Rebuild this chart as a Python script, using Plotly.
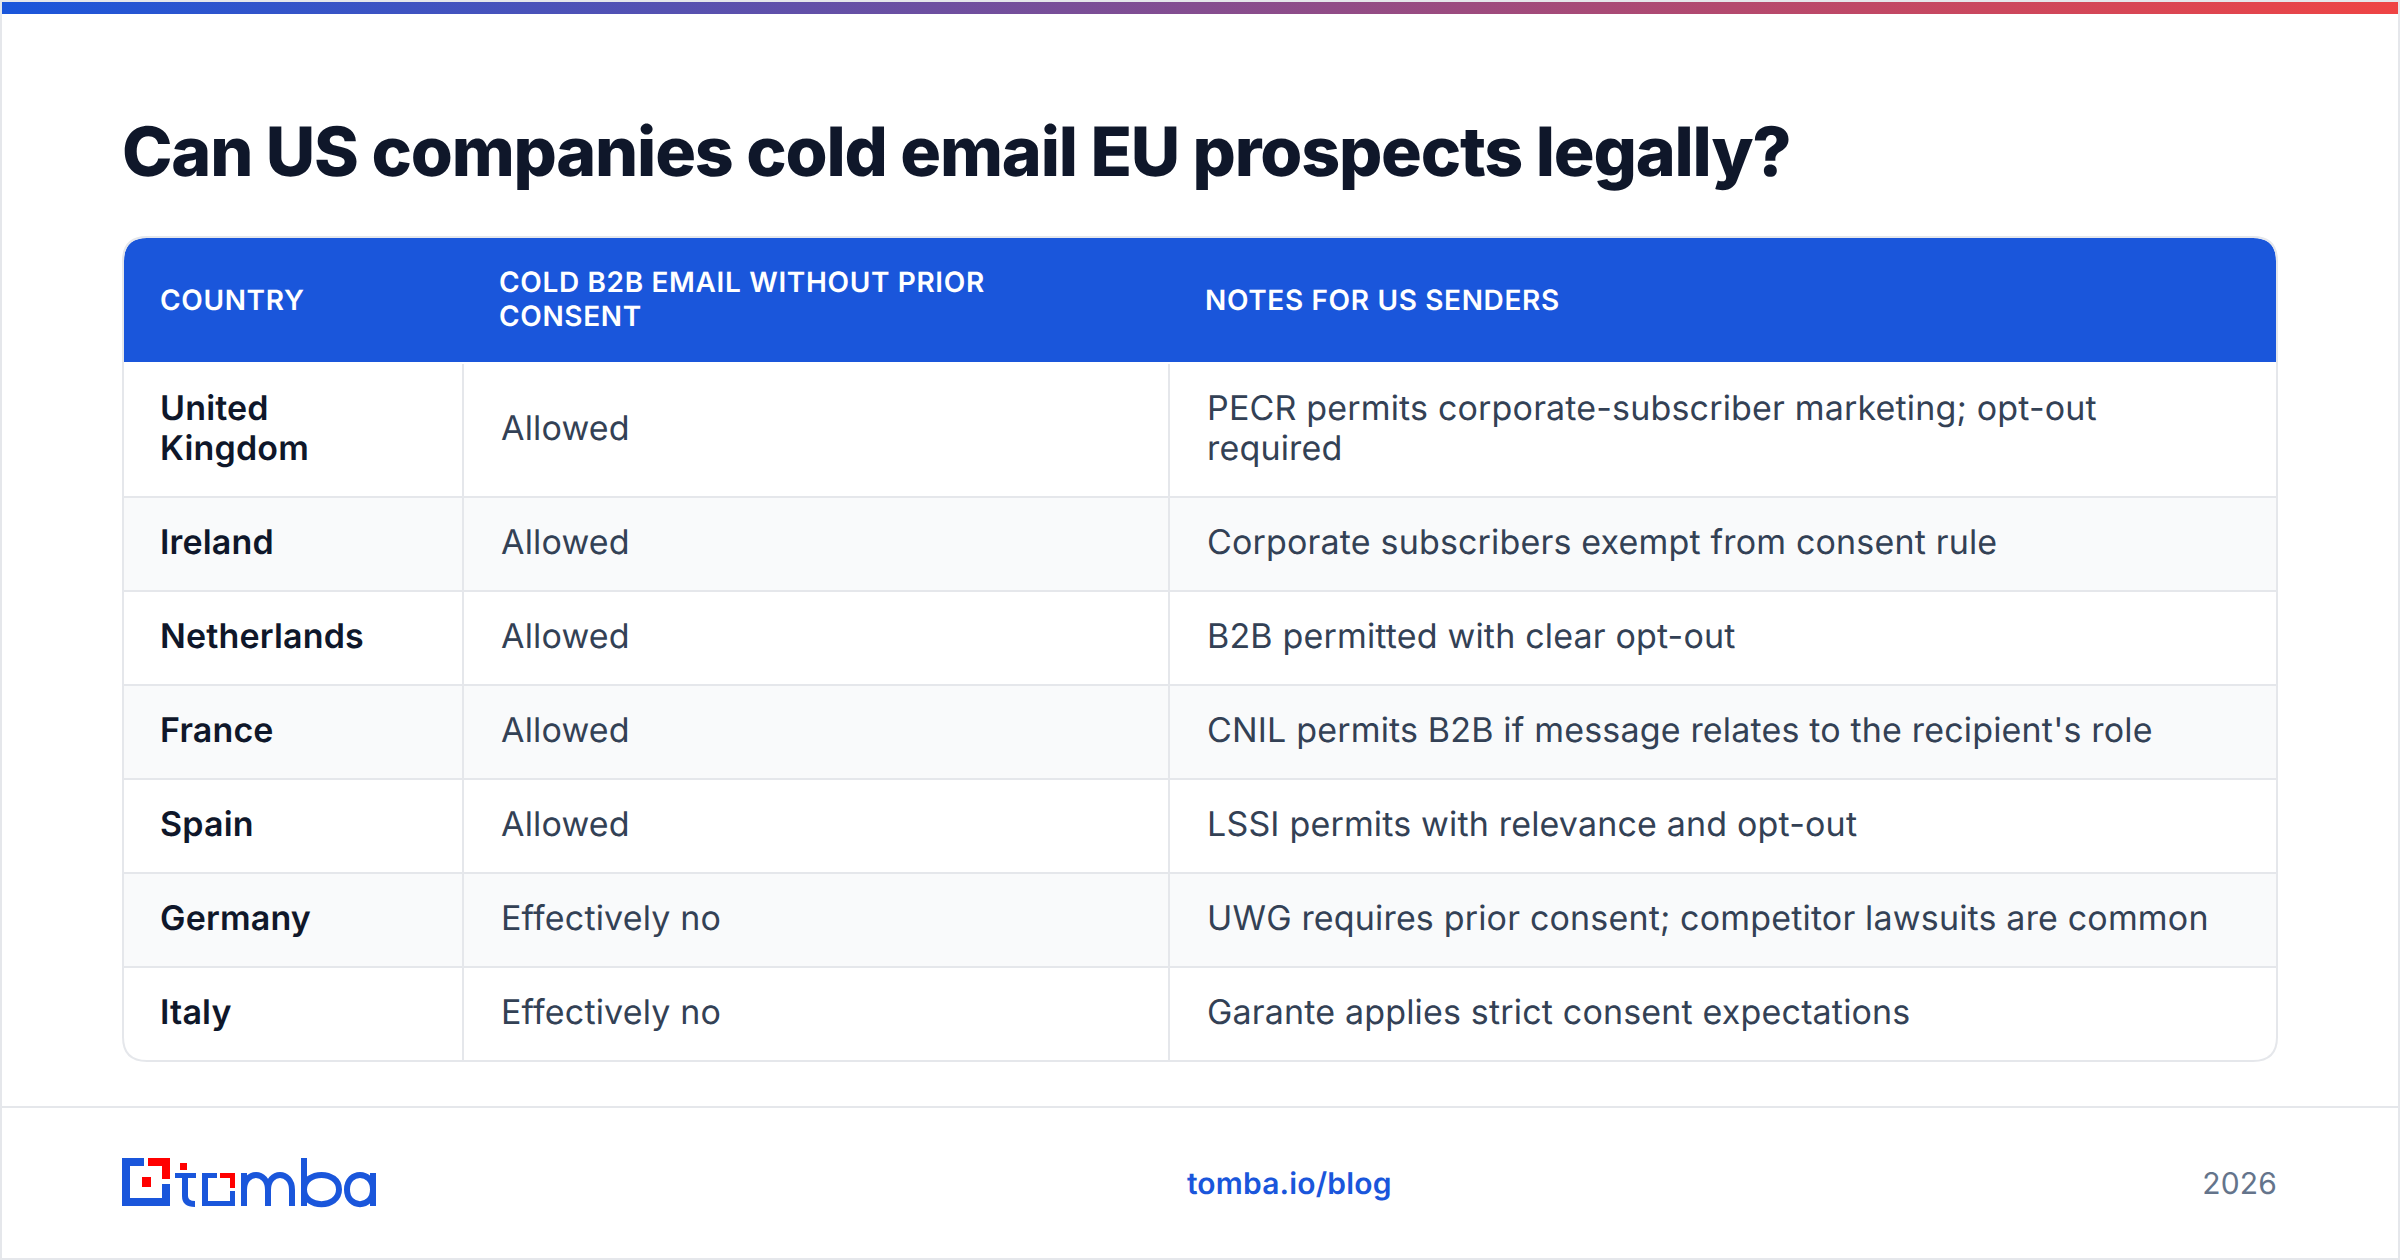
import json
import plotly.graph_objects as go

TITLE = "Can US companies cold email EU prospects legally?"
HEADERS = ["COUNTRY", "COLD B2B EMAIL WITHOUT PRIOR<br>CONSENT", "NOTES FOR US SENDERS"]
COUNTRIES = ["United<br>Kingdom", "Ireland", "Netherlands", "France", "Spain", "Germany", "Italy"]
CONSENT = ["Allowed", "Allowed", "Allowed", "Allowed", "Allowed", "Effectively no", "Effectively no"]
NOTES = [
    "PECR permits corporate-subscriber marketing; opt-out<br>required",
    "Corporate subscribers exempt from consent rule",
    "B2B permitted with clear opt-out",
    "CNIL permits B2B if message relates to the recipient's role",
    "LSSI permits with relevance and opt-out",
    "UWG requires prior consent; competitor lawsuits are common",
    "Garante applies strict consent expectations",
]
FOOT_LINK = "tomba.io/blog"
FOOT_YEAR = "2026"

W, H = 2400, 1260
FONT = "Inter"
BLUE = "#1a56db"
RED = "#ff0000"
BORDER = "#e5e7eb"
ZEBRA = "#f9fafb"
INK = "#0f172a"
BODY = "#334155"
MUTED = "#64748b"

CARD_L, CARD_R, CARD_T, CARD_B = 123, 2277, 237, 1061
HEAD_B = 362
ROW_EDGES = [364, 497, 591, 685, 779, 873, 967, 1061]
COL_EDGES = [463, 1169]
HEAD_X = [160, 499, 1205]
CELL_X = [160, 501, 1207]
HEAD_Y = 299
LINE_H_BODY = 40
LINE_H_HEAD = 34

shapes, annos = [], []


def rect(x0, y0, x1, y1, color):
    shapes.append(dict(type="rect", xref="x", yref="y", x0=x0, y0=y0, x1=x1, y1=y1,
                       fillcolor=color, line_width=0, layer="below"))


def path(d, fill=None, stroke=None, width=0):
    shapes.append(dict(type="path", xref="x", yref="y", path=d,
                       fillcolor=fill if fill else "rgba(0,0,0,0)",
                       line=dict(color=stroke if stroke else "rgba(0,0,0,0)", width=width),
                       layer="below"))


def text(s, x, y, size, color, weight=400, anchor="left"):
    annos.append(dict(text=s, x=x, y=y, xref="x", yref="y", xanchor=anchor, yanchor="middle",
                      align=anchor, showarrow=False, borderpad=0,
                      font=dict(family=FONT, size=size, color=color, weight=weight)))


def multiline(s, x, yc, size, color, weight, lh):
    parts = s.split("<br>")
    for i, p in enumerate(parts):
        text(p, x, yc + (i - (len(parts) - 1) / 2) * lh, size, color, weight)


# page frame
rect(0, 0, W, 2, BORDER)
rect(0, H - 2, W, H, BORDER)
rect(0, 0, 2, H, BORDER)
rect(W - 2, 0, W, H, BORDER)
rect(2, 1106, W - 2, 1108, BORDER)

# zebra rows
for i in range(len(COUNTRIES)):
    if i % 2 == 1:
        rect(CARD_L + 1, ROW_EDGES[i], CARD_R - 1, ROW_EDGES[i + 1] - 1, ZEBRA)

# header band with rounded top corners
r = 23
path(f"M {CARD_L+1},{HEAD_B} L {CARD_L+1},{CARD_T+1+r} Q {CARD_L+1},{CARD_T+1} {CARD_L+1+r},{CARD_T+1} "
     f"L {CARD_R-1-r},{CARD_T+1} Q {CARD_R-1},{CARD_T+1} {CARD_R-1},{CARD_T+1+r} L {CARD_R-1},{HEAD_B} Z", fill=BLUE)

# row and column rules
for y in ROW_EDGES[1:-1]:
    rect(CARD_L, y - 1, CARD_R, y + 1, BORDER)
for x in COL_EDGES:
    rect(x - 1, ROW_EDGES[0], x + 1, CARD_B, BORDER)

# card outline
r = 24
path(f"M {CARD_L+r},{CARD_T} L {CARD_R-r},{CARD_T} Q {CARD_R},{CARD_T} {CARD_R},{CARD_T+r} "
     f"L {CARD_R},{CARD_B-r} Q {CARD_R},{CARD_B} {CARD_R-r},{CARD_B} L {CARD_L+r},{CARD_B} "
     f"Q {CARD_L},{CARD_B} {CARD_L},{CARD_B-r} L {CARD_L},{CARD_T+r} Q {CARD_L},{CARD_T} {CARD_L+r},{CARD_T} Z",
     stroke=BORDER, width=2)

# logo: square mark
rect(122, 1158, 130, 1206, BLUE)
rect(122, 1158, 144, 1166, BLUE)
rect(122, 1198, 170, 1206, BLUE)
rect(162, 1184, 170, 1206, BLUE)
rect(148, 1158, 170, 1166, RED)
rect(162, 1158, 170, 1179, RED)
rect(142, 1177, 151, 1187, RED)
# logo: t
rect(180, 1163, 187, 1170, RED)
rect(175, 1173, 196, 1178, BLUE)
path("M 185,1173 L 185,1196 Q 185,1204 195,1204", stroke=BLUE, width=6)
# logo: o
rect(202, 1173, 217, 1178, BLUE)
rect(202, 1173, 208, 1206, BLUE)
rect(202, 1201, 235, 1206, BLUE)
rect(230, 1191, 235, 1206, BLUE)
rect(220, 1173, 235, 1178, RED)
rect(230, 1173, 235, 1188, RED)
# logo: m
path("M 244,1173 L 244,1206", stroke=BLUE, width=6)
path("M 244,1190 C 244,1170 268,1170 268,1190 L 268,1206", stroke=BLUE, width=6)
path("M 268,1190 C 268,1170 292,1170 292,1190 L 292,1206", stroke=BLUE, width=6)
# logo: b
path("M 304,1158 L 304,1206", stroke=BLUE, width=6)
path("M 304,1189.5 C 304,1170 339,1170 339,1189.5 C 339,1209 304,1209 304,1189.5 Z", stroke=BLUE, width=6)
# logo: a
path("M 373,1189.5 C 373,1170 347,1170 347,1189.5 C 347,1209 373,1209 373,1189.5 Z", stroke=BLUE, width=6)
path("M 373,1173 L 373,1206", stroke=BLUE, width=6)

# texts
text(TITLE, 121, 150.5, 68, INK, 800)
for h, x in zip(HEADERS, HEAD_X):
    yh = HEAD_Y if "<br>" in h else HEAD_Y + 1
    multiline(h, x - 1.5, yh, 28, "#ffffff", 600, LINE_H_HEAD)
for i, (c, a, n) in enumerate(zip(COUNTRIES, CONSENT, NOTES)):
    yc = (ROW_EDGES[i] + ROW_EDGES[i + 1]) / 2 - 3
    multiline(c, CELL_X[0] - 1.5, yc, 34, INK, 600, LINE_H_BODY)
    multiline(a, CELL_X[1] - 1.5, yc, 34, BODY, 400, LINE_H_BODY)
    multiline(n, CELL_X[2] - 1.5, yc, 34, BODY, 400, LINE_H_BODY)
text(FOOT_LINK, 1288.5, 1183, 30, BLUE, 600, "center")
text(FOOT_YEAR, 2278, 1183, 30, MUTED, 400, "right")

fig = go.Figure()
fig.add_trace(go.Scatter(
    x=[2, W - 2, W - 2, 2, 2], y=[2, 2, 14, 14, 2], mode="lines", fill="toself",
    line=dict(width=0), hoverinfo="skip", showlegend=False,
    fillgradient=dict(type="horizontal", colorscale=[[0, BLUE], [1, "#ef4444"]]),
))
fig.update_layout(
    width=W, height=H, margin=dict(l=0, r=0, t=0, b=0),
    paper_bgcolor="#ffffff", plot_bgcolor="#ffffff", showlegend=False,
    shapes=shapes, annotations=annos,
    xaxis=dict(range=[0, W], visible=False, fixedrange=True),
    yaxis=dict(range=[H, 0], visible=False, fixedrange=True),
)

spacing = {TITLE: "-1.2px"}
for h in HEADERS:
    for p in h.split("<br>"):
        spacing[p] = "0.65px"
post = """
document.documentElement.style.margin='0';document.body.style.margin='0';
document.documentElement.style.overflow='hidden';
var sp=%s;
document.querySelectorAll('.annotation-text').forEach(function(t){
  var s=sp[t.textContent];
  t.style.letterSpacing=s?s:'0.17px';
  t.style.textRendering='geometricPrecision';
});
""" % json.dumps(spacing)
fig.write_html("out.html", post_script=post, config={"displayModeBar": False})
